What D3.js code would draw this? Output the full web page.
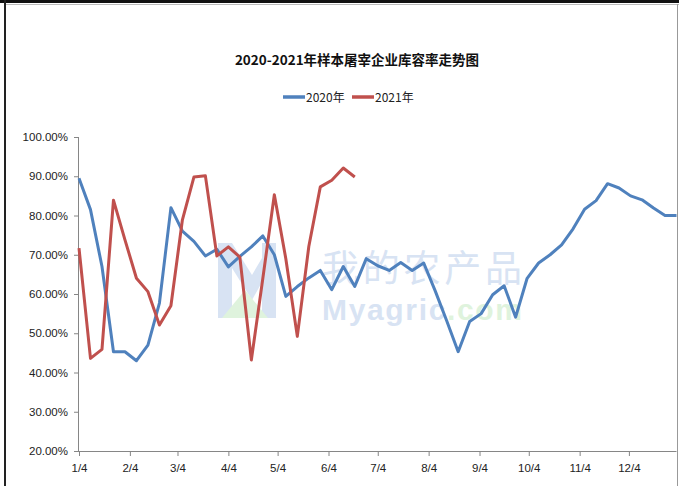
<!DOCTYPE html>
<html>
<head>
<meta charset="utf-8">
<script src="https://cdn.jsdelivr.net/npm/d3@7"></script>
<style>
  body { margin: 0; background: #fff; }
  svg { display: block; }
</style>
</head>
<body>
<div class="chart"></div>
<script>
// weekly stock-capacity rate (%), week 0 = 1/4
var values2020 = [89.5, 81.5, 67, 45.3, 45.3, 43, 47, 57.7, 82, 76,
                  73.4, 69.7, 71.4, 66.9, 69.6, 72, 74.8, 70, 59.4, 61.9,
                  64.1, 66, 61.1, 67, 61.9, 69, 67.2, 66, 68, 66,
                  67.9, 60.8, 53.2, 45.3, 53, 55, 59.8, 62.1, 54.1, 64,
                  67.9, 70, 72.5, 76.6, 81.6, 83.8, 88.1, 87, 85, 84,
                  81.9, 80, 80];
var values2021 = [71.7, 43.6, 45.9, 83.9, 73.8, 64, 60.6, 52.1, 57, 78.9,
                  89.8, 90.1, 69.7, 72, 69.4, 43.2, 64, 85.3, 69, 49.2,
                  72.1, 87.3, 89, 92.1, 89.8];
var seriesNames = ["2020年", "2021年"];
var seriesColors = ["#4F81BD", "#C0504D"];
var yTicks = [20, 30, 40, 50, 60, 70, 80, 90, 100];
var monthTicks = ["2020-01-04", "2020-02-04", "2020-03-04", "2020-04-04", "2020-05-04", "2020-06-04",
                  "2020-07-04", "2020-08-04", "2020-09-04", "2020-10-04", "2020-11-04", "2020-12-04"];

var W = 679, H = 486;
var parse = d3.timeParse("%Y-%m-%d");
var start = parse("2020-01-04");

var svg = d3.select("div.chart")
            .append("svg")
            .attr("width", W)
            .attr("height", H);

// frame
svg.append("line").attr("x1", 0).attr("x2", W).attr("y1", 1.5).attr("y2", 1.5)
   .attr("stroke", "#111").attr("stroke-width", 3);
svg.append("line").attr("x1", 5).attr("x2", W).attr("y1", 4.5).attr("y2", 4.5)
   .attr("stroke", "#bbb").attr("stroke-width", 1);
svg.append("line").attr("x1", 5).attr("x2", 5).attr("y1", 0).attr("y2", H)
   .attr("stroke", "#222").attr("stroke-width", 2);
svg.append("line").attr("x1", 677.5).attr("x2", 677.5).attr("y1", 4).attr("y2", H)
   .attr("stroke", "#999").attr("stroke-width", 1);

var x = d3.scaleTime()
          .domain([start, d3.timeDay.offset(start, 364)])
          .range([79, 676.5]);

var y = d3.scaleLinear()
          .domain([20, 100])
          .range([451, 137]);

function weekDate(i){ return d3.timeDay.offset(start, 7 * i); }

// watermark
var wm = svg.append("g").attr("opacity", 0.45);
wm.append("path")
  .attr("d", "M218,243 L232,243 L252,275 L262,258 L262,243 L276,243 L276,318 L262,318 L262,282 L252,300 L232,268 L232,318 L218,318 Z")
  .attr("fill", "#a9c2e6");
wm.append("path")
  .attr("d", "M222,318 L245,290 L268,318 Z")
  .attr("fill", "#b9e6b4");
wm.append("text")
  .attr("x", 322).attr("y", 282)
  .attr("font-family", "Noto Sans CJK SC")
  .attr("font-size", 37)
  .attr("textLength", 200)
  .attr("fill", "#a9c2e6")
  .text("我的农产品");
var wt = wm.append("text")
  .attr("x", 322).attr("y", 320)
  .attr("font-family", "Liberation Sans, Arial, sans-serif")
  .attr("font-size", 30)
  .attr("font-weight", "bold")
  .attr("textLength", 200);
wt.append("tspan").attr("fill", "#a9c2e6").text("Myagric");
wt.append("tspan").attr("fill", "#b9e6b4").text(".com");

// axes
var yAxis = d3.axisLeft(y)
              .tickValues(yTicks)
              .tickFormat(function(d){ return d.toFixed(2) + "%"; })
              .tickSize(5)
              .tickPadding(6);

var xAxis = d3.axisBottom(x)
              .tickValues(monthTicks.map(parse))
              .tickFormat(d3.timeFormat("%-m/%-d"))
              .tickSize(5)
              .tickPadding(8);

var gy = svg.append("g").attr("transform", "translate(79,0)").call(yAxis);
var gx = svg.append("g").attr("transform", "translate(0,451)").call(xAxis);

[gy, gx].forEach(function(g){
  g.select(".domain").attr("stroke", "#868686");
  g.selectAll(".tick line").attr("stroke", "#868686");
  g.selectAll(".tick text")
   .attr("fill", "#222")
   .attr("font-family", "Liberation Sans, Arial, sans-serif")
   .attr("font-size", 11.5);
});
gy.select(".domain").attr("d", "M-0.5,137V451.5");
gx.select(".domain").attr("d", "M79,0.5H676.5");

// lines
var line = d3.line()
             .x(function(d, i){ return x(weekDate(i)); })
             .y(function(d){ return y(d); });

[values2020, values2021].forEach(function(vals, k){
  svg.append("path")
     .datum(vals)
     .attr("fill", "none")
     .attr("stroke", seriesColors[k])
     .attr("stroke-width", 3)
     .attr("stroke-linejoin", "round")
     .attr("d", line);
});

// title
svg.append("text")
   .attr("x", 357).attr("y", 65)
   .attr("text-anchor", "middle")
   .attr("font-family", "Noto Sans CJK SC")
   .attr("font-weight", "bold")
   .attr("font-size", 13.5)
   .attr("fill", "#111")
   .text("2020-2021年样本屠宰企业库容率走势图");

// legend
var legendX = [283, 352];
seriesNames.forEach(function(name, k){
  var lg = svg.append("g").attr("transform", "translate(" + legendX[k] + ",97)");
  lg.append("line").attr("x1", 0).attr("x2", 22).attr("y1", 0).attr("y2", 0)
    .attr("stroke", seriesColors[k]).attr("stroke-width", 3.5);
  lg.append("text").attr("x", 23).attr("y", 4.5)
    .attr("font-family", "Noto Sans CJK SC")
    .attr("font-size", 12)
    .attr("fill", "#222")
    .text(name);
});
</script>
</body>
</html>
